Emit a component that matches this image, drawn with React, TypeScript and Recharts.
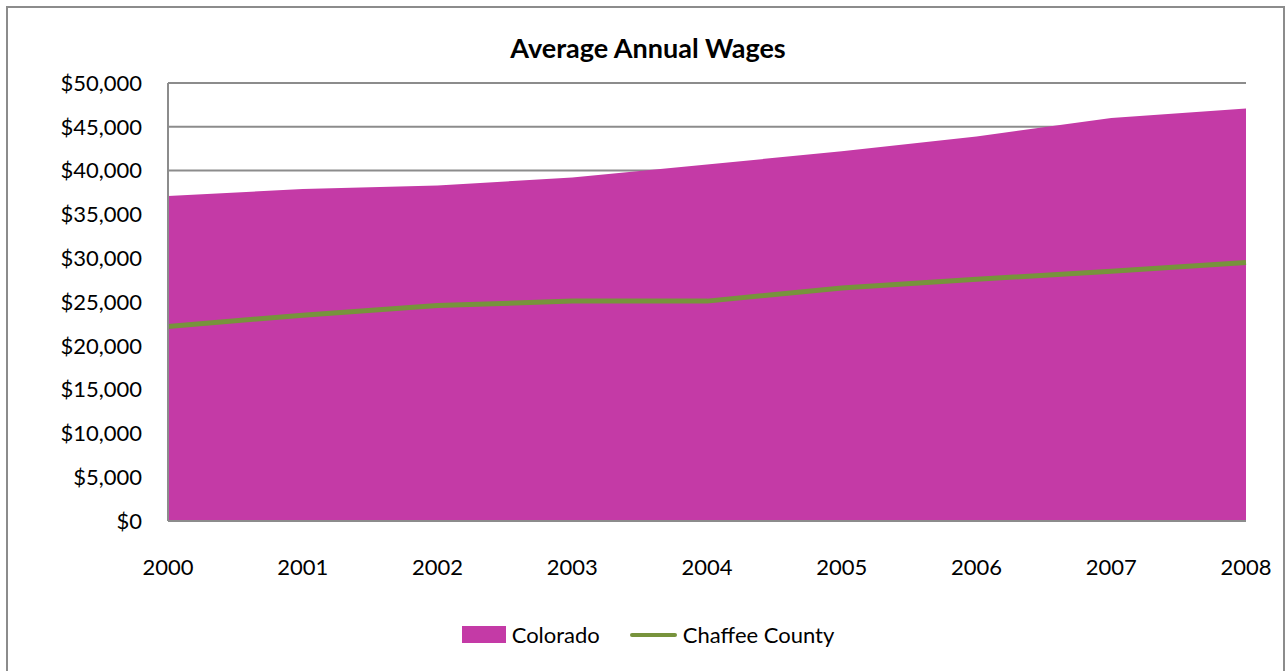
import React from 'react';
import { ComposedChart, Area, Line, XAxis, YAxis, CartesianGrid, Legend } from 'recharts';

const years = ['2000', '2001', '2002', '2003', '2004', '2005', '2006', '2007', '2008'];
const colorado = [37100, 37900, 38300, 39200, 40700, 42200, 43900, 46000, 47100];
const chaffee = [22200, 23500, 24600, 25100, 25100, 26600, 27600, 28500, 29500];
const yTicks = [0, 5000, 10000, 15000, 20000, 25000, 30000, 35000, 40000, 45000, 50000];

const PINK = '#C43AA6';
const GREEN = '#77933C';
const FONT = 'Lato, "Open Sans", sans-serif';

const data = years.map((year, i) => ({ year, colorado: colorado[i], chaffee: chaffee[i] }));

const money = (v: number) => '$' + v.toLocaleString('en-US');

const LegendBox = () => (
  <div style={{ display: 'flex', justifyContent: 'center', alignItems: 'center', fontFamily: FONT, fontSize: 22, color: '#000', paddingLeft: 10 }}>
    <span style={{ display: 'inline-block', width: 44, height: 17, background: PINK, marginRight: 6 }} />
    <span style={{ marginRight: 30 }}>Colorado</span>
    <span style={{ display: 'inline-block', width: 47, height: 4, background: GREEN, borderRadius: 2, marginRight: 6 }} />
    <span>Chaffee County</span>
  </div>
);

export default function App() {
  return (
    <div style={{ position: 'absolute', left: 0, top: 0, width: 1286, height: 671, overflow: 'hidden', background: '#fff' }}>
      <div style={{ position: 'absolute', left: 6, top: 6, width: 1275, height: 700, border: '2px solid #8c8c8c' }} />
      <div style={{ position: 'absolute', left: 0, top: 31, width: 1296, textAlign: 'center', fontFamily: FONT, fontWeight: 700, fontSize: 27, color: '#000' }}>
        Average Annual Wages
      </div>
      <div style={{ position: 'absolute', left: 0, top: 0 }}>
        <ComposedChart width={1286} height={671} data={data} margin={{ top: 83, right: 40, bottom: 60, left: 0 }}>
          <CartesianGrid vertical={false} stroke="#8c8c8c" strokeWidth={2} />
          <XAxis
            dataKey="year"
            height={90}
            tickSize={0}
            tickMargin={38}
            axisLine={{ stroke: '#8c8c8c', strokeWidth: 2 }}
            tick={{ fill: '#000', fontSize: 22, fontFamily: FONT }}
          />
          <YAxis
            width={168}
            domain={[0, 50000]}
            ticks={yTicks}
            tickFormatter={money}
            tickSize={0}
            tickMargin={26}
            axisLine={{ stroke: '#8c8c8c', strokeWidth: 2 }}
            tickLine={false}
            tick={{ fill: '#000', fontSize: 22, fontFamily: FONT }}
          />
          <Area
            type="linear"
            dataKey="colorado"
            name="Colorado"
            fill={PINK}
            fillOpacity={1}
            stroke="none"
            isAnimationActive={false}
          />
          <Line
            type="linear"
            dataKey="chaffee"
            name="Chaffee County"
            stroke={GREEN}
            strokeWidth={5}
            dot={false}
            activeDot={false}
            isAnimationActive={false}
          />
          <Legend
            layout="horizontal"
            verticalAlign="middle"
            align="center"
            content={() => <LegendBox />}
            wrapperStyle={{ top: 621, left: 0, width: 1286 }}
          />
        </ComposedChart>
      </div>
    </div>
  );
}
